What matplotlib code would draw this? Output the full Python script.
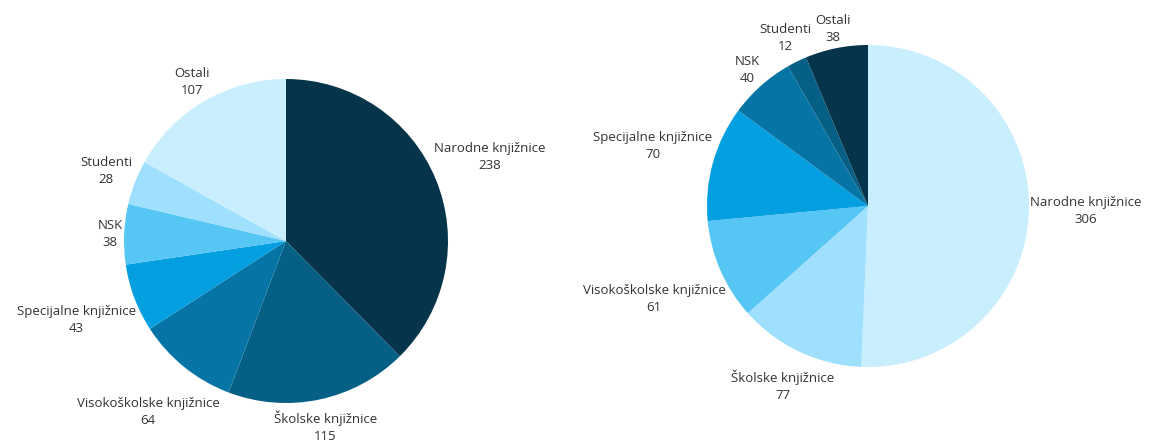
import numpy as np
import matplotlib.pyplot as plt

plt.rcParams['font.family'] = ['Open Sans', 'DejaVu Sans']

# left chart
left_labels = ['Narodne knjižnice', 'Školske knjižnice', 'Visokoškolske knjižnice',
               'Specijalne knjižnice', 'NSK', 'Studenti', 'Ostali']
left_values = [238, 115, 64, 43, 38, 28, 107]
left_colors = ['#06344a', '#065f85', '#0675a6', '#049fe0', '#56c6f4', '#9ee0fd', '#c9eefd']

# right chart
right_labels = ['Narodne knjižnice', 'Školske knjižnice', 'Visokoškolske knjižnice',
                'Specijalne knjižnice', 'NSK', 'Studenti', 'Ostali']
right_values = [306, 77, 61, 70, 40, 12, 38]
right_colors = ['#c9eefd', '#9ee0fd', '#56c6f4', '#049fe0', '#0675a6', '#065f85', '#06344a']

W, H = 1149, 443
fig = plt.figure(figsize=(W / 100, H / 100), dpi=100)
LIM = 1.7


def pie_axes(cx, cy, r):
    # cx, cy in pixels from top-left, r radius in pixels
    side = 2 * LIM * r
    ax = fig.add_axes([(cx - side / 2) / W, (H - cy - side / 2) / H, side / W, side / H])
    ax.set_xlim(-LIM, LIM)
    ax.set_ylim(-LIM, LIM)
    ax.set_aspect('equal')
    ax.axis('off')
    return ax


def draw_pie(ax, labels, values, colors):
    wedges, _ = ax.pie(values, colors=colors, startangle=90, counterclock=False,
                       radius=1, wedgeprops=dict(linewidth=0))
    ax.set_xlim(-LIM, LIM)
    ax.set_ylim(-LIM, LIM)
    fig.canvas.draw()
    renderer = fig.canvas.get_renderer()
    o = ax.transData.transform((0, 0))
    r_px = ax.transData.transform((1, 0))[0] - o[0]
    gap = 1
    for w, lab, val in zip(wedges, labels, values):
        ang = np.deg2rad((w.theta1 + w.theta2) / 2)
        c, s = np.cos(ang), np.sin(ang)
        t = ax.text(0, 0, f'{lab}\n{val}', ha='center', va='center',
                    fontsize=9.5, color='#333333', linespacing=1.4,
                    multialignment='center')
        bb = t.get_window_extent(renderer)
        d = r_px + gap + abs(c) * bb.width / 2 + abs(s) * bb.height / 2
        t.set_position((d / r_px * c, d / r_px * s))


ax1 = pie_axes(286, 241, 162)
draw_pie(ax1, left_labels, left_values, left_colors)

ax2 = pie_axes(868, 206, 161)
draw_pie(ax2, right_labels, right_values, right_colors)

fig.savefig('out.png', dpi=100)
